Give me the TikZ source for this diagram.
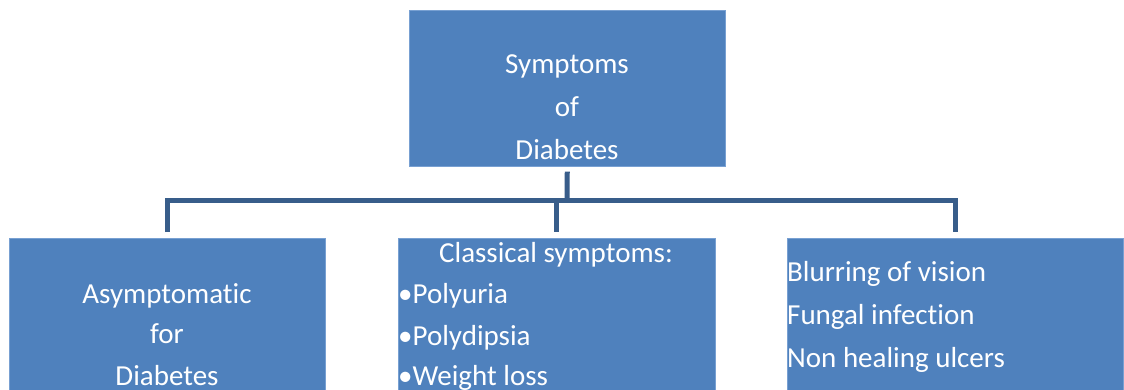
\documentclass[tikz,border=0pt]{standalone}
\usepackage{fontspec}
\setmainfont{Carlito}[Ligatures=NoCommon]
\usetikzlibrary{positioning}
\definecolor{boxblue}{RGB}{79,129,189}
\definecolor{boxedge}{RGB}{120,160,210}
\definecolor{linkblue}{RGB}{56,93,138}
\begin{document}
\begin{tikzpicture}[x=1pt, y=-1pt, every node/.style={font=\fontsize{29}{34}\selectfont}]
    \tikzset{
        box/.style={fill=boxblue, draw=boxedge, line width=0.6pt, inner sep=0pt, anchor=north west},
        txt/.style={text=white, inner sep=0pt, anchor=base},
        txtl/.style={txt, anchor=base west},
        link/.style={draw=linkblue, line width=5pt, line join=miter}
    }
    \clip (0,0) rectangle (1124,390);
    \fill[white] (0,0) rectangle (1124,390);

    % boxes
    \node[box, minimum width=316pt, minimum height=156pt] (top) at (409,10) {};
    \node[box, minimum width=316pt, minimum height=170pt] (asym) at (9,238) {};
    \node[box, minimum width=317pt, minimum height=170pt] (classic) at (398,238) {};
    \node[box, minimum width=336pt, minimum height=170pt] (other) at (787,238) {};

    % texts
    \foreach \t [count=\i] in {Symptoms, of, Diabetes}
        \node[txt] (top-\i) at (567, {31+43*\i}) {\t};
    \foreach \t/\y [count=\i] in {Asymptomatic/303, for/343, Diabetes/385}
        \node[txt] (asym-\i) at (167, \y) {\t};
    \node[txt] (classic-0) at (556, 262) {Classical symptoms:};
    \foreach \t/\y [count=\i] in {Polyuria/303, Polydipsia/345, Weight loss/385}
        \node[txtl] (classic-\i) at (398, \y) {•\t};
    \foreach \t/\y [count=\i] in {Blurring of vision/281, Fungal infection/324, Non healing ulcers/367}
        \node[txtl] (other-\i) at (787, \y) {\t};

    % connectors
    \coordinate (bus) at (567,201);
    \draw[link, shorten <=5pt] (top.south) -- (bus);
    \draw[link, shorten <=6pt, shorten >=6pt] (asym.north) -- (asym.north |- bus)
        -- (other.north |- bus) -- (other.north);
    \draw[link, shorten >=6pt] (classic.north |- bus) -- (classic.north);
\end{tikzpicture}
\end{document}
